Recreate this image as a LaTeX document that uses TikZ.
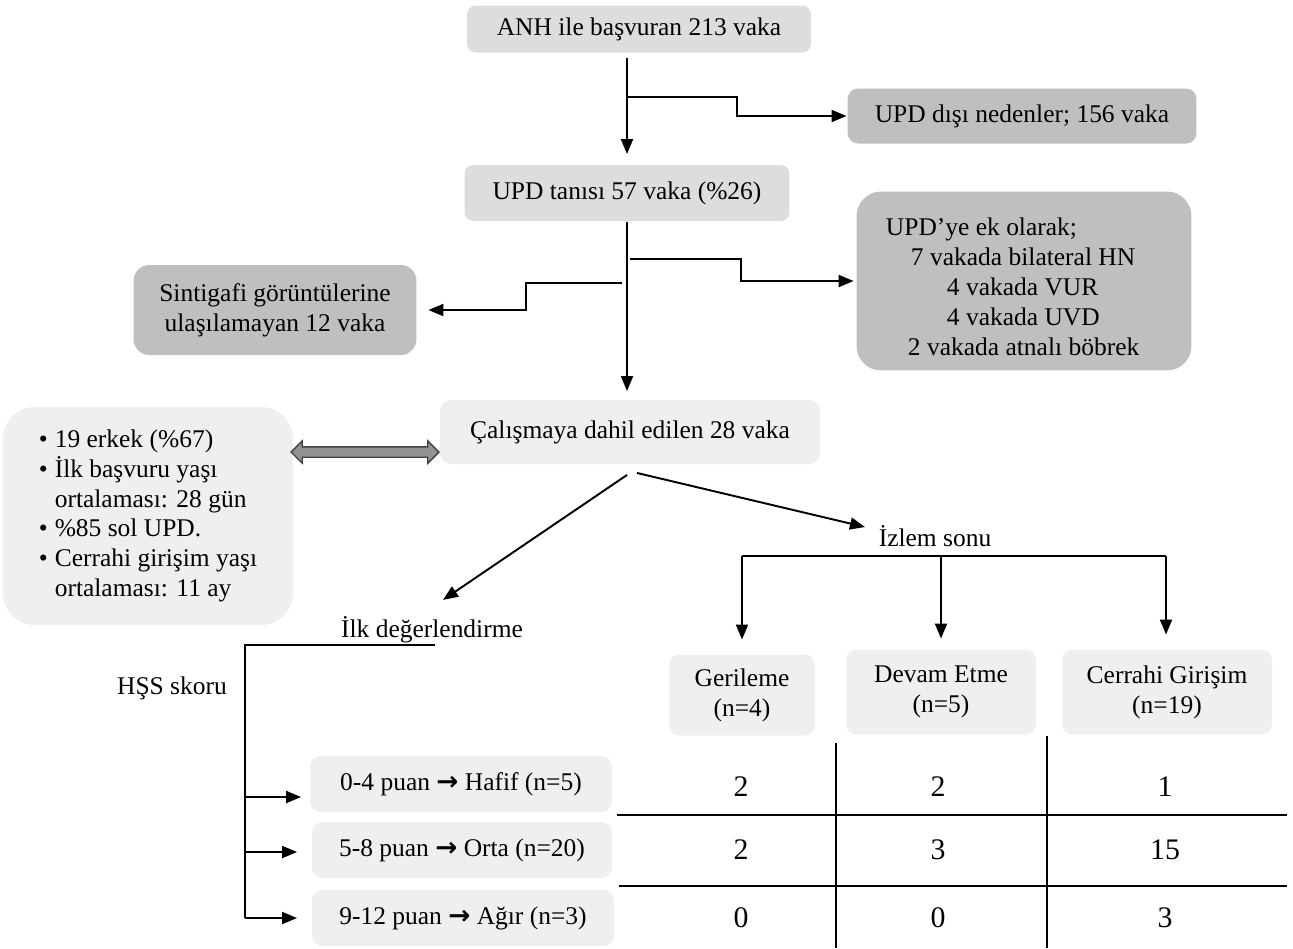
\documentclass[tikz,border=0pt]{standalone}
\usepackage{fontspec}
\setmainfont{Liberation Serif}
\newfontfamily\arrowfont{DejaVu Sans}
\usetikzlibrary{positioning, arrows.meta, shapes.arrows}
\definecolor{boxlight}{HTML}{DDDDDD}
\definecolor{boxdark}{HTML}{BFBFBF}
\definecolor{boxpale}{HTML}{EFEFEF}
\newcommand{\puanarrow}{{\arrowfont\bfseries\fontsize{15}{17}\selectfont →}}
\tikzset{
    lightbox/.style={fill=boxlight, rounded corners=5pt, inner sep=0pt},
    darkbox/.style={fill=boxdark, rounded corners=6pt, inner sep=0pt},
    palebox/.style={fill=boxpale, rounded corners=6pt, inner sep=0pt},
    numcell/.style={font=\fontsize{17}{20}\selectfont},
}
\begin{document}
\begin{tikzpicture}[
    x=0.02cm, y=-0.02cm,
    >={Triangle[length=0.3cm, width=0.24cm]}, line width=1.1pt,
    every node/.style={font=\fontsize{14.5}{17}\selectfont},
]
\useasboundingbox (0,0) rectangle (1293,948);

% upper flow
\node[lightbox, minimum width=6.88cm, minimum height=0.94cm] (anh) at (639,29) {ANH ile başvuran 213 vaka};
\node[darkbox, minimum width=6.98cm, minimum height=1.1cm] (disi) at (1022,116) {UPD dışı nedenler; 156 vaka};
\node[lightbox, minimum width=6.5cm, minimum height=1.12cm] (tani) at (627,193) {UPD tanısı 57 vaka (\%26)};
\node[darkbox, rounded corners=14pt, minimum width=6.7cm, minimum height=3.58cm] (ek) at (1024,281) {};
\node[align=left, anchor=west, inner sep=0pt] (ektext) at (885,287) {UPD’ye ek olarak;\\
    \hspace*{0.5cm}7 vakada bilateral HN\\
    \hspace*{1.22cm}4 vakada VUR\\
    \hspace*{1.22cm}4 vakada UVD\\
    \hspace*{0.44cm}2 vakada atnalı böbrek};
\node[darkbox, rounded corners=9pt, minimum width=5.66cm, minimum height=1.8cm, align=center] (sinti) at (275,310) {Sintigafi görüntülerine\\ulaşılamayan 12 vaka};
\node[palebox, minimum width=7.6cm, minimum height=1.28cm] (dahil) at (630,432) {Çalışmaya dahil edilen 28 vaka};
\node[palebox, rounded corners=18pt, minimum width=5.8cm, minimum height=4.36cm] (ozet) at (148,516) {
    \begin{tabular}{@{}l@{\hspace{4pt}}l@{}}
    \textbullet & 19 erkek (\%67)\\
    \textbullet & İlk başvuru yaşı\\
     & ortalaması: 28 gün\\
    \textbullet & \%85 sol UPD.\\
    \textbullet & Cerrahi girişim yaşı\\
     & ortalaması: 11 ay
    \end{tabular}};
\node[double arrow, draw=black!75, fill=gray!85, line width=0.8pt, inner sep=0.09cm,
    double arrow head extend=0.12cm, minimum height=2.96cm] (link) at (365,452) {};

\coordinate (b1) at (627,97);
\coordinate (b2) at (630,259);
\coordinate (b3) at (622,283);
\draw[->, shorten <=0.1cm, shorten >=0.2cm] (anh.south -| tani.north) -- (tani.north);
\draw[->] (b1) -- ++(110,0) |- (disi.west);
\draw[->, shorten >=0.16cm] (tani.south) -- (tani.south |- dahil.north);
\draw[->] (b2) -- ++(111,0) |- ([xshift=-0.04cm]ek.west);
\draw[->, shorten >=0.22cm] (b3) -- ++(-96,0) |- (sinti.east);

% follow-up and first assessment
\node (izlem) at (935,536) {İzlem sonu};
\node (ilk) at (432,630) {İlk değerlendirme};
\node (hss) at (172,688) {HŞS skoru};
\draw[->] ([xshift=-0.06cm, yshift=-0.2cm]dahil.south) -- ([xshift=0.22cm, yshift=0.2cm]ilk.north);
\draw[->] ([xshift=0.14cm, yshift=-0.16cm]dahil.south) -- ([xshift=-0.14cm, yshift=0.18cm]izlem.west);

\node[palebox, minimum width=2.92cm, minimum height=1.62cm, align=center] (geri) at (742,695) {Gerileme\\(n=4)};
\node[palebox, minimum width=3.8cm, minimum height=1.7cm, align=center] (devam) at (941,692) {Devam Etme\\(n=5)};
\node[palebox, minimum width=4.2cm, minimum height=1.7cm, align=center] (cerr) at (1167,692) {Cerrahi Girişim\\(n=19)};

\coordinate (barL) at (742,556);
\coordinate (barR) at (1166,556);
\draw (barL) -- (barR);
\draw[->] (barL) -- ([yshift=0.28cm]geri.north);
\draw[->] (devam.north |- barL) -- ([yshift=0.2cm]devam.north);
\draw[->] (barR) -- ([yshift=0.28cm]cerr.north -| barR);

\node[palebox, minimum width=6.04cm, minimum height=1.12cm] (puan1) at (461,784) {0-4 puan \puanarrow{} Hafif (n=5)};
\node[palebox, minimum width=6.0cm, minimum height=1.12cm] (puan2) at (462,850) {5-8 puan \puanarrow{} Orta (n=20)};
\node[palebox, minimum width=6.04cm, minimum height=1.12cm] (puan3) at (463,918) {9-12 puan \puanarrow{} Ağır (n=3)};

\coordinate (trunk) at (245,645);
\draw ([xshift=0.06cm]ilk.south |- trunk) -- (trunk) -- (trunk |- puan3.west);
\draw[->, shorten >=0.16cm] ([yshift=-0.26cm]puan1.west -| trunk) -- ([yshift=-0.26cm]puan1.west);
\draw[->, shorten >=0.28cm] ([yshift=-0.04cm]puan2.west -| trunk) -- ([yshift=-0.04cm]puan2.west);
\draw[->, shorten >=0.28cm] (puan3.west -| trunk) -- (puan3.west);

% table
\draw (617,815) -- (1287,815);
\draw (619,886) -- (1287,886);
\draw (836,743) -- (836,948);
\draw (1047,736) -- (1047,948);
\node[numcell] (n11) at (741,787) {2};
\node[numcell] (n12) at (938,787) {2};
\node[numcell] (n13) at (1165,787) {1};
\node[numcell] (n21) at (741,850) {2};
\node[numcell] (n22) at (938,850) {3};
\node[numcell] (n23) at (1165,850) {15};
\node[numcell] (n31) at (741,918) {0};
\node[numcell] (n32) at (938,918) {0};
\node[numcell] (n33) at (1165,918) {3};
\end{tikzpicture}
\end{document}
